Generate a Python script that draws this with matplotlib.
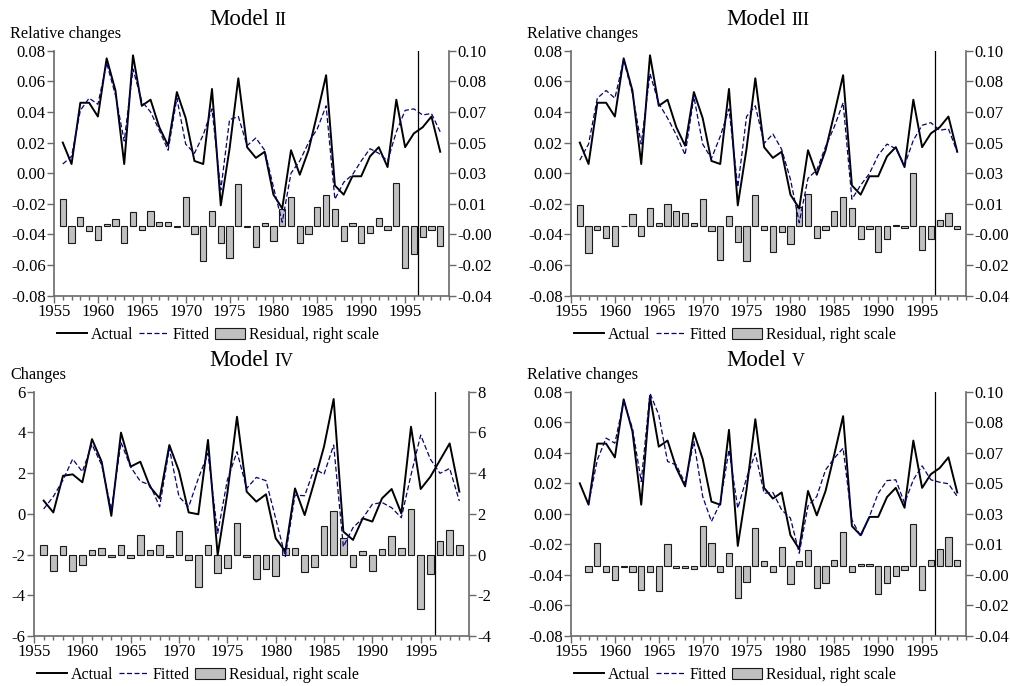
import numpy as np
import matplotlib
matplotlib.use("Agg")
import matplotlib.pyplot as plt
from matplotlib.lines import Line2D
from matplotlib.patches import Patch

plt.rcParams['font.family'] = ['Liberation Serif', 'DejaVu Serif']

# ---- data ----
years = list(range(1956, 2000))
years_v = years[1:]          # model V starts in 1957

actual_rel = [0.020, 0.006, 0.046, 0.046, 0.037, 0.075, 0.054, 0.006, 0.077, 0.044,
              0.048, 0.030, 0.018, 0.053, 0.036, 0.008, 0.006, 0.055, -0.021, 0.016,
              0.062, 0.017, 0.010, 0.014, -0.014, -0.023, 0.015, -0.001, 0.015, 0.039,
              0.064, -0.008, -0.014, -0.002, -0.002, 0.011, 0.017, 0.004, 0.048, 0.017,
              0.026, 0.030, 0.037, 0.014]

fitted_ii = [0.006, 0.011, 0.041, 0.049, 0.045, 0.072, 0.051, 0.021, 0.068, 0.047,
             0.040, 0.028, 0.015, 0.049, 0.019, 0.013, 0.025, 0.042, -0.011, 0.035,
             0.037, 0.018, 0.023, 0.015, -0.009, -0.032, 0.000, 0.008, 0.020, 0.029,
             0.044, -0.017, -0.006, -0.001, 0.008, 0.016, 0.013, 0.008, 0.027, 0.041,
             0.042, 0.038, 0.039, 0.027]
resid_ii = [0.015, -0.010, 0.005, -0.003, -0.008, 0.001, 0.004, -0.010, 0.008, -0.0025,
            0.0086, 0.0023, 0.0023, -0.0006, 0.0164, -0.005, -0.020, 0.0086, -0.0097, -0.0183,
            0.0236, -0.0006, -0.0122, 0.0013, -0.0088, 0.0095, 0.0166, -0.0097, -0.0048, 0.0105,
            0.0175, 0.0093, -0.0086, 0.0013, -0.0101, -0.004, 0.0042, -0.0025, 0.0244, -0.024,
            -0.0162, -0.0067, -0.0025, -0.0116]

fitted_iii = [0.0085, 0.019, 0.049, 0.054, 0.049, 0.074, 0.052, 0.019, 0.065, 0.0455,
              0.036, 0.025, 0.012, 0.050, 0.019, 0.0096, 0.024, 0.042, -0.009, 0.037,
              0.044, 0.0195, 0.0256, 0.0156, -0.004, -0.0323, -0.0033, 0.0021, 0.0173, 0.0304,
              0.046, -0.017, -0.0078, -0.0002, 0.0118, 0.019, 0.016, 0.0052, 0.0215, 0.0313,
              0.033, 0.028, 0.029, 0.0139]
resid_iii = [0.0118, -0.0154, -0.0025, -0.007, -0.0114, -0.0002, 0.0067, -0.006, 0.0103, 0.0013,
             0.0124, 0.0082, 0.0072, 0.0017, 0.0152, -0.0032, -0.0196, 0.0057, -0.0095, -0.020,
             0.0175, -0.0025, -0.0149, -0.0038, -0.0107, 0.0105, 0.018, -0.007, -0.0025, 0.0086,
             0.0166, 0.0099, -0.0076, -0.0019, -0.0149, -0.0078, 0.0006, -0.0011, 0.030, -0.0139,
             -0.0076, 0.0032, 0.0074, -0.0021]

actual_chg = [0.65, 0.07, 1.87, 1.94, 1.55, 3.67, 2.56, -0.1, 3.99, 2.32,
              2.56, 1.33, 0.76, 3.38, 2.1, 0.07, -0.02, 3.63, -2.02, 1.0,
              4.77, 1.09, 0.6, 0.96, -1.2, -1.85, 1.25, -0.06, 1.58, 3.3,
              5.64, -0.87, -1.28, -0.22, -0.38, 0.76, 1.22, 0.02, 4.28, 1.22,
              1.82, 2.64, 3.46, 1.09]
fitted_iv = [0.24, 0.85, 1.66, 2.69, 2.07, 3.41, 2.4, 0.19, 3.51, 2.3,
             1.6, 1.42, 0.35, 3.22, 0.84, 0.35, 1.74, 2.97, -0.96, 1.66,
             3.05, 1.25, 1.79, 1.63, -0.22, -2.1, 0.92, 0.89, 2.23, 1.94,
             3.38, -1.61, -0.68, -0.22, 0.47, 0.56, 0.3, -0.19, 1.91, 3.87,
             2.69, 1.99, 2.23, 0.63]
resid_iv = [0.46, -0.8, 0.41, -0.8, -0.52, 0.23, 0.31, -0.13, 0.49, -0.18,
            0.98, 0.23, 0.46, -0.1, 1.16, -0.26, -1.59, 0.46, -0.93, -0.65,
            1.57, -0.1, -1.19, -0.7, -1.03, 0.34, 0.31, -0.88, -0.62, 1.42,
            2.13, 0.8, -0.62, 0.18, -0.8, 0.25, 0.9, 0.31, 2.23, -2.65,
            -0.97, 0.67, 1.19, 0.46]

fitted_v = [0.0066, 0.0354, 0.0496, 0.0463, 0.0736, 0.0561, 0.0212, 0.079, 0.0648, 0.0343,
            0.032, 0.020, 0.0474, 0.0114, -0.005, 0.007, 0.0419, 0.0037, 0.0234, 0.0397,
            0.0135, 0.014, 0.0026, -0.0028, -0.0258, 0.0052, 0.0114, 0.0288, 0.0365, 0.043,
            -0.004, -0.0148, -0.0017, 0.0135, 0.0218, 0.0223, 0.007, 0.0223, 0.0314, 0.0223,
            0.0207, 0.0197, 0.0114]
resid_v = [-0.0034, 0.0134, -0.0032, -0.008, -0.0002, -0.0032, -0.0138, -0.0032, -0.0143, 0.013,
           -0.001, -0.001, -0.0015, 0.0233, 0.0134, -0.0034, 0.0073, -0.0183, -0.0092, 0.0218,
           0.0029, -0.0032, 0.0109, -0.0101, 0.0027, 0.0092, -0.0124, -0.0096, 0.0038, 0.0195,
           -0.0034, 0.001, 0.0015, -0.0157, -0.0099, -0.0057, -0.0023, 0.0243, -0.0134, 0.0034,
           0.0099, 0.0168, 0.0034]

rel_left_labels = ["-0.08", "-0.06", "-0.04", "-0.02", "0.00", "0.02", "0.04", "0.06", "0.08"]
rel_right_labels = ["-0.04", "-0.02", "-0.00", "0.01", "0.03", "0.05", "0.07", "0.08", "0.10"]
chg_left_labels = ["-6", "-4", "-2", "0", "2", "4", "6"]
chg_right_labels = ["-4", "-2", "0", "2", "4", "6", "8"]
x_labels = ["1955", "1960", "1965", "1970", "1975", "1980", "1985", "1990", "1995"]

W, H = 1010, 686
fig = plt.figure(figsize=(W / 100, H / 100), dpi=100)
spine_c = '#6a6a6a'


def px(x, y):
    return x / W, 1 - y / H


def panel(box, num, ylab, ylab_x, yrs, act, fyrs, fit, res, lims, rlims, llabels, rlabels):
    x0, y0, x1, y1 = box
    ax = fig.add_axes([x0 / W, 1 - y1 / H, (x1 - x0) / W, (y1 - y0) / H])
    ax2 = ax.twinx()
    ax.set_zorder(ax2.get_zorder() + 1)
    ax.patch.set_visible(False)

    ax2.bar(fyrs, res, width=0.72, color='#c0c0c0', edgecolor='#1a1a1a', linewidth=0.8)
    ax.plot(yrs, act, color='black', lw=1.4)
    ax.plot(fyrs, fit, color='#00008b', lw=0.9, ls=(0, (4, 2)))
    ax.axvline(1996.5, color='black', lw=0.9)

    ax.set_xlim(1955, 2000)
    ax.set_ylim(*lims)
    ax2.set_ylim(*rlims)
    ax.set_yticks(np.linspace(lims[0], lims[1], len(llabels)))
    ax.set_yticklabels(llabels)
    ax2.set_yticks(np.linspace(rlims[0], rlims[1], len(rlabels)))
    ax2.set_yticklabels(rlabels)
    ax.set_xticks([int(s) for s in x_labels])
    ax.set_xticklabels(x_labels)
    ax.set_xticks(range(1955, 2001), minor=True)

    for a in (ax, ax2):
        for s in a.spines.values():
            s.set_visible(False)
    for s in ('left', 'bottom'):
        ax.spines[s].set_visible(True)
        ax.spines[s].set_color(spine_c)
        ax.spines[s].set_linewidth(1.2)
    ax2.spines['right'].set_visible(True)
    ax2.spines['right'].set_color(spine_c)
    ax2.spines['right'].set_linewidth(1.2)

    ax.tick_params(axis='both', which='major', direction='out', length=5, width=1,
                   color=spine_c, labelsize=12, pad=1)
    ax.tick_params(axis='x', which='minor', direction='out', length=3, width=1, color=spine_c)
    ax.tick_params(axis='y', which='minor', left=False)
    ax2.tick_params(axis='y', direction='out', length=5, width=1, color=spine_c,
                    labelsize=12, pad=1)

    cx = (x0 + x1) / 2
    fig.text(*px(cx + 18, y0 - 26), "Model", ha='right', va='baseline', fontsize=16.5)
    fig.text(*px(cx + 23, y0 - 26), num, ha='left', va='baseline', fontsize=13)
    fig.text(*px(ylab_x, y0 - 13), ylab, ha='left', va='baseline', fontsize=11.7)

    handles = [Line2D([], [], color='black', lw=1.4),
               Line2D([], [], color='#00008b', lw=0.9, ls=(0, (4, 2))),
               Patch(facecolor='#c0c0c0', edgecolor='#1a1a1a', linewidth=0.8)]
    ax.legend(handles, ["Actual", "Fitted", "Residual, right scale"], ncol=3,
              loc='center left', bbox_to_anchor=px(x0 + 3, y1 + 39),
              bbox_transform=fig.transFigure, frameon=False, fontsize=11.5,
              handlelength=1.9, handletextpad=0.25, columnspacing=0.3,
              borderpad=0, borderaxespad=0)


panel((54, 50.7, 449, 295.7), "II", "Relative changes", 10, years, actual_rel,
      years, fitted_ii, resid_ii, (-0.08, 0.08), (-0.04, 0.10), rel_left_labels, rel_right_labels)
panel((571, 50.7, 966, 295.7), "III", "Relative changes", 527, years, actual_rel,
      years, fitted_iii, resid_iii, (-0.08, 0.08), (-0.04, 0.10), rel_left_labels, rel_right_labels)
panel((34, 391.7, 469, 636), "IV", "Changes", 10, years, actual_chg,
      years, fitted_iv, resid_iv, (-6, 6), (-4, 8), chg_left_labels, chg_right_labels)
panel((571, 391.7, 966, 636), "V", "Relative changes", 527, years, actual_rel,
      years_v, fitted_v, resid_v, (-0.08, 0.08), (-0.04, 0.10), rel_left_labels, rel_right_labels)

fig.savefig("out.png", dpi=100, facecolor='white')
